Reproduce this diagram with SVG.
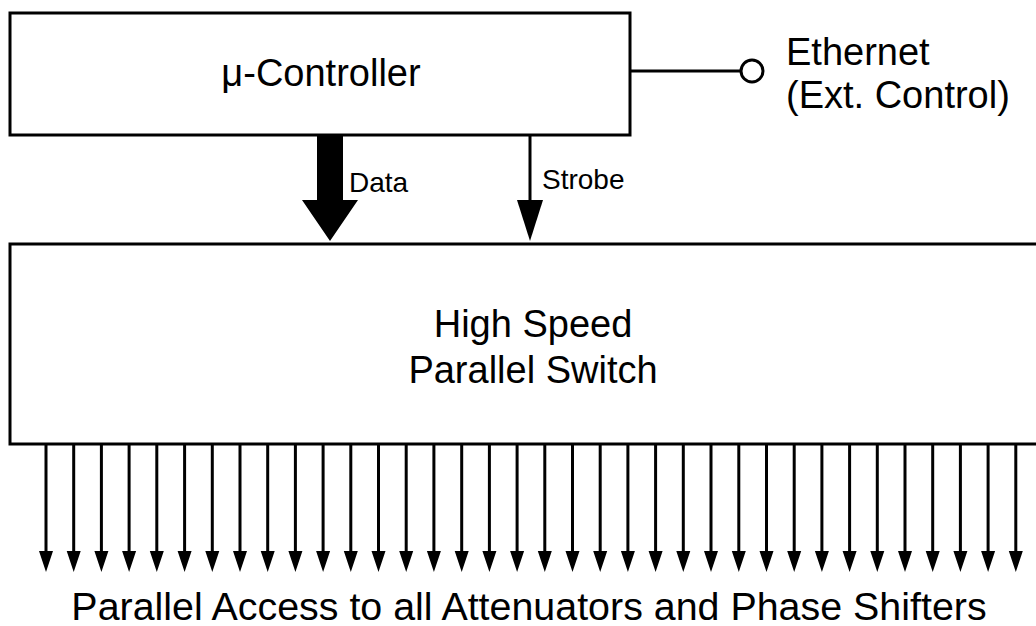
<svg xmlns="http://www.w3.org/2000/svg" width="1036" height="626" viewBox="0 0 1036 626">
<style>
.box{fill:#fff;stroke:#000;stroke-width:3}
.t{font-family:"Liberation Sans",Arial,sans-serif;fill:#000}
.big{font-size:38px}
.small{font-size:28px}
.ln{stroke:#000;stroke-width:3;fill:none}
.out{stroke:#000;stroke-width:3}
</style>
<rect width="1036" height="626" fill="#fff"/>
<g id="controller">
<rect class="box" x="10" y="13" width="620" height="122"/>
<text class="t big" x="321" y="86" text-anchor="middle">μ-Controller</text>
</g>
<g id="switch">
<rect class="box" x="10" y="244" width="1050" height="200"/>
<text class="t big" x="533" y="337" text-anchor="middle">High Speed</text>
<text class="t big" x="533" y="383" text-anchor="middle">Parallel Switch</text>
</g>
<g id="ethernet">
<circle cx="752" cy="71" r="11" fill="#fff" stroke="#000" stroke-width="3"/>
<text class="t big" x="786" y="65">Ethernet</text>
<text class="t big" x="786" y="108">(Ext. Control)</text>
</g>
<g id="connectors">
<line class="ln" x1="631" y1="71" x2="741" y2="71"/>
<path d="M317,135 L343,135 L343,200 L358,200 L330,241 L302,200 L317,200 Z" fill="#000"/>
<text class="t small" x="349" y="192">Data</text>
<line class="ln" x1="530" y1="135" x2="530" y2="200"/>
<path d="M517,200 L543,200 L530,241 Z" fill="#000"/>
<text class="t small" x="542" y="189">Strobe</text>
<g id="outputs">
<path class="out" d="M46,444V552M73.7,444V552M101.4,444V552M129.1,444V552M156.8,444V552M184.6,444V552M212.3,444V552M240,444V552M267.7,444V552M295.4,444V552M323.1,444V552M350.8,444V552M378.5,444V552M406.2,444V552M433.9,444V552M461.7,444V552M489.4,444V552M517.1,444V552M544.8,444V552M572.5,444V552M600.2,444V552M627.9,444V552M655.6,444V552M683.3,444V552M711,444V552M738.8,444V552M766.5,444V552M794.2,444V552M821.9,444V552M849.6,444V552M877.3,444V552M905,444V552M932.7,444V552M960.4,444V552M988.1,444V552M1015.8,444V552"/>
<path fill="#000" d="M39,551h14l-7,21zM66.7,551h14l-7,21zM94.4,551h14l-7,21zM122.1,551h14l-7,21zM149.8,551h14l-7,21zM177.6,551h14l-7,21zM205.3,551h14l-7,21zM233,551h14l-7,21zM260.7,551h14l-7,21zM288.4,551h14l-7,21zM316.1,551h14l-7,21zM343.8,551h14l-7,21zM371.5,551h14l-7,21zM399.2,551h14l-7,21zM426.9,551h14l-7,21zM454.7,551h14l-7,21zM482.4,551h14l-7,21zM510.1,551h14l-7,21zM537.8,551h14l-7,21zM565.5,551h14l-7,21zM593.2,551h14l-7,21zM620.9,551h14l-7,21zM648.6,551h14l-7,21zM676.3,551h14l-7,21zM704,551h14l-7,21zM731.8,551h14l-7,21zM759.5,551h14l-7,21zM787.2,551h14l-7,21zM814.9,551h14l-7,21zM842.6,551h14l-7,21zM870.3,551h14l-7,21zM898,551h14l-7,21zM925.7,551h14l-7,21zM953.4,551h14l-7,21zM981.1,551h14l-7,21zM1008.8,551h14l-7,21z"/>
</g>
</g>
<text class="t big" x="529" y="620" text-anchor="middle" style="font-size:39.4px">Parallel Access to all Attenuators and Phase Shifters</text>
</svg>
